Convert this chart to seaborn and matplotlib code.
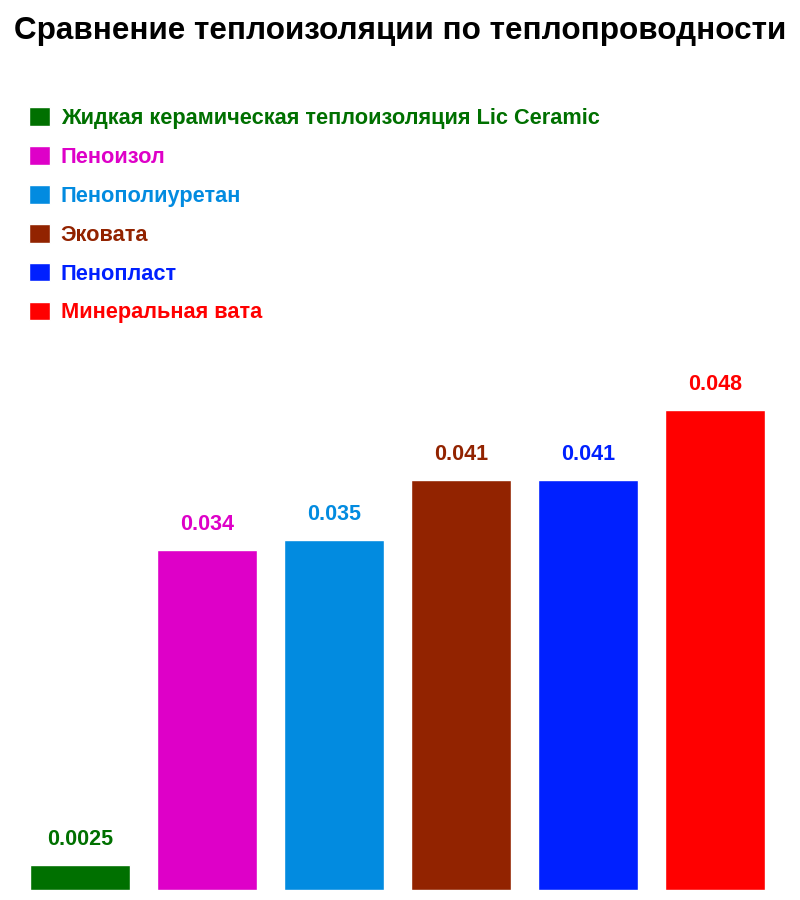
import pandas as pd
import matplotlib.pyplot as plt
import seaborn as sns

# data
materials = [
    "Жидкая керамическая теплоизоляция Lic Ceramic",
    "Пеноизол",
    "Пенополиуретан",
    "Эковата",
    "Пенопласт",
    "Минеральная вата",
]
conductivity = [0.0025, 0.034, 0.035, 0.041, 0.041, 0.048]
value_labels = ["0.0025", "0.034", "0.035", "0.041", "0.041", "0.048"]
colors = ["#007000", "#DE00C8", "#028BE0", "#922300", "#0020FF", "#FF0000"]

df = pd.DataFrame({"material": materials, "value": conductivity})

sns.set_theme(style="white")
plt.rcParams['font.family'] = ['Liberation Sans', 'DejaVu Sans']

fig = plt.figure(figsize=(8, 9), dpi=100)
# axes spans full width, bottom of bars at 890 px
ax = fig.add_axes([0, 10 / 900, 1, 550 / 900])

sns.barplot(data=df, x="material", y="value", hue="material", palette=colors,
            width=0.787, dodge=False, legend=False, ax=ax, saturation=1)

ax.set_xlim(-0.63, 5.67)
ax.set_ylim(0, 0.055)
ax.axis("off")

# value labels above bars
for bar, txt, c in zip(ax.patches, value_labels, colors):
    ax.annotate(txt, (bar.get_x() + bar.get_width() / 2, bar.get_height()),
                xytext=(0, 18.5), textcoords="offset points",
                ha="center", va="center", fontsize=15.5, fontweight="bold", color=c)

# legend
leg = fig.legend(handles=list(ax.patches), labels=materials, loc="upper left",
                 bbox_to_anchor=(29 / 800, 1 - 107 / 900), frameon=False,
                 prop={"size": 15.7, "weight": "bold"}, labelcolor=colors,
                 handlelength=0.95, handleheight=0.95, handletextpad=0.5,
                 labelspacing=0.78, borderpad=0, borderaxespad=0)

fig.text(0.5, 1 - 31 / 900, "Сравнение теплоизоляции по теплопроводности",
         ha="center", va="center", fontsize=22.6, fontweight="bold", color="black")

fig.savefig("out.png", dpi=100, facecolor="white")
